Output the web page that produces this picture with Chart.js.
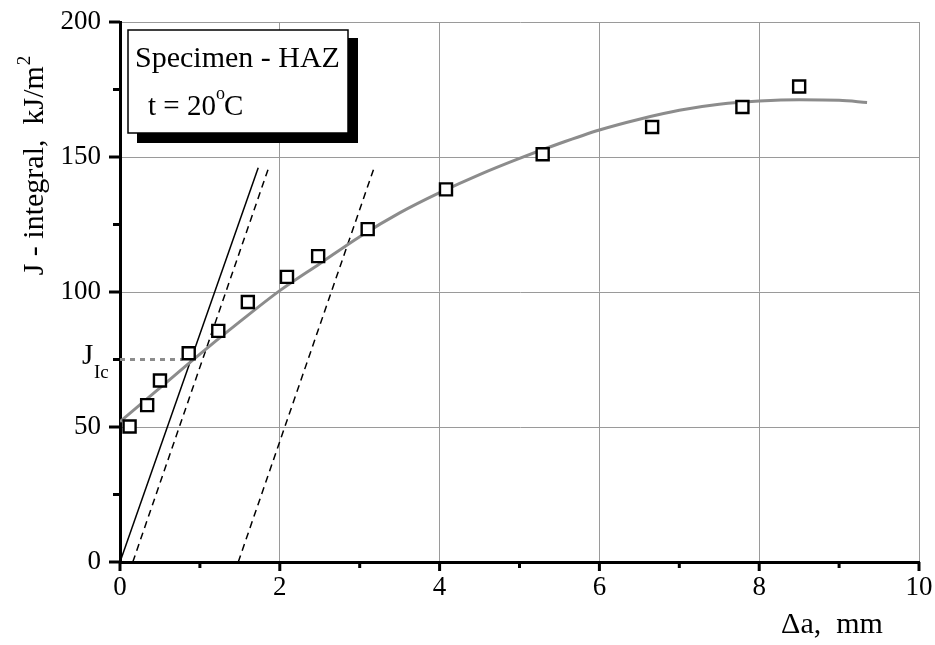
<!DOCTYPE html>
<html>
<head>
<meta charset="utf-8">
<script src="https://cdn.jsdelivr.net/npm/chart.js@4/dist/chart.umd.min.js"></script>
<style>
  html, body { margin: 0; padding: 0; background: #fff; }
  #wrap { width: 935px; height: 645px; }
</style>
</head>
<body>
<div id="wrap"><canvas id="jrChart" width="935" height="645"></canvas></div>
<script>
// measured points: crack growth (mm) and J-integral (kJ/m2)
const deltaA = [0.12, 0.34, 0.5, 0.86, 1.23, 1.6, 2.09, 2.48, 3.1, 4.08, 5.29, 6.66, 7.79, 8.5];
const jValues = [50.2, 58.1, 67.2, 77.3, 85.6, 96.3, 105.6, 113.3, 123.3, 138.0, 151.0, 161.1, 168.5, 176.1];

// fitted R-curve
const fitX = [0, 0.5, 1, 1.5, 2, 2.5, 3, 3.5, 4, 4.5, 5, 5.5, 6, 6.5, 7, 7.5, 8, 8.5, 9, 9.35];
const fitY = [52, 64.5, 77, 89, 100.5, 110.5, 120.5, 129.3, 136.8, 143.5, 149.5, 155, 160, 164, 167.3, 169.5, 170.7, 171.2, 171, 170.2];

// blunting line and its offsets
const bluntX = [0, 1.73];
const bluntY = [0, 146];
const offset1X = [0.16, 1.86];
const offset2X = [1.48, 3.18];
const offsetY = [0, 146];

// J_Ic level
const jicValue = 75;
const jicX = [0, 0.78];

const xTicks = [0, 2, 4, 6, 8, 10];
const yTicks = [0, 50, 100, 150, 200];

const serif = '"Liberation Serif", "DejaVu Serif", serif';

function pairs(xs, ys) {
    return xs.map((x, i) => ({ x: x, y: ys[i] }));
}

// tick marks, titles, J_Ic label and the framed note
const decorPlugin = {
    id: 'decor',
    afterDraw(chart) {
        const ctx = chart.ctx;
        const xs = chart.scales.x;
        const ys = chart.scales.y;
        const area = chart.chartArea;
        ctx.save();
        ctx.strokeStyle = '#000';
        ctx.lineWidth = 3;
        ctx.lineCap = 'butt';
        // y ticks
        for (let v = 0; v <= 200; v += 25) {
            const py = ys.getPixelForValue(v);
            const len = yTicks.includes(v) ? 11 : 7;
            ctx.beginPath();
            ctx.moveTo(area.left, py);
            ctx.lineTo(area.left - len, py);
            ctx.stroke();
        }
        // x ticks
        for (let v = 0; v <= 10; v += 1) {
            const px = xs.getPixelForValue(v);
            const len = xTicks.includes(v) ? 9 : 6;
            ctx.beginPath();
            ctx.moveTo(px, area.bottom);
            ctx.lineTo(px, area.bottom + len);
            ctx.stroke();
        }

        ctx.fillStyle = '#000';
        // J_Ic label
        const jy = ys.getPixelForValue(jicValue);
        ctx.textAlign = 'left';
        ctx.textBaseline = 'alphabetic';
        ctx.font = '29px ' + serif;
        ctx.fillText('J', 82, jy + 4);
        ctx.font = '19px ' + serif;
        ctx.fillText('Ic', 94, jy + 18);

        // x axis title
        ctx.font = '30px ' + serif;
        ctx.textAlign = 'center';
        ctx.fillText('\u0394a,  mm', 832, 633);

        // y axis title
        ctx.save();
        ctx.translate(43, 166);
        ctx.rotate(-Math.PI / 2);
        ctx.font = '30px ' + serif;
        const main = 'J - integral,  kJ/m';
        const wMain = ctx.measureText(main).width;
        ctx.font = '19px ' + serif;
        const wSup = ctx.measureText('2').width;
        const start = -(wMain + wSup) / 2;
        ctx.textAlign = 'left';
        ctx.font = '30px ' + serif;
        ctx.fillText(main, start, 0);
        ctx.font = '19px ' + serif;
        ctx.fillText('2', start + wMain + 1, -13);
        ctx.restore();

        // note box with shadow
        ctx.fillStyle = '#000';
        ctx.fillRect(137, 38, 221, 105);
        ctx.fillStyle = '#fff';
        ctx.fillRect(128, 30, 220, 103);
        ctx.lineWidth = 1.5;
        ctx.strokeStyle = '#000';
        ctx.strokeRect(128, 30, 220, 103);
        ctx.fillStyle = '#000';
        ctx.textAlign = 'left';
        ctx.font = '30px ' + serif;
        ctx.fillText('Specimen - HAZ', 135, 67);
        ctx.font = '29px ' + serif;
        ctx.fillText('t = 20', 148, 115);
        const wT = ctx.measureText('t = 20').width;
        ctx.font = '18px ' + serif;
        ctx.fillText('o', 148 + wT, 99);
        const wO = ctx.measureText('o').width;
        ctx.font = '29px ' + serif;
        ctx.fillText('C', 148 + wT + wO - 1, 115);
        ctx.restore();
    }
};

const ctx = document.getElementById('jrChart').getContext('2d');

const jrChart = new Chart(ctx, {
    type: 'scatter',
    data: {
        datasets: [
            {
                label: 'data',
                data: pairs(deltaA, jValues),
                pointStyle: 'rect',
                pointRadius: 8.5,
                pointBorderWidth: 2.4,
                pointBorderColor: '#000',
                pointBackgroundColor: '#fff',
                showLine: false,
                order: 0
            },
            {
                label: 'fit',
                data: pairs(fitX, fitY),
                showLine: true,
                borderColor: '#8c8c8c',
                borderWidth: 3,
                pointRadius: 0,
                cubicInterpolationMode: 'monotone',
                order: 1
            },
            {
                label: 'blunting',
                data: pairs(bluntX, bluntY),
                showLine: true,
                borderColor: '#000',
                borderWidth: 1.5,
                pointRadius: 0,
                order: 2
            },
            {
                label: 'offset 0.15',
                data: pairs(offset1X, offsetY),
                showLine: true,
                borderColor: '#000',
                borderWidth: 1.5,
                borderDash: [7, 5],
                pointRadius: 0,
                order: 3
            },
            {
                label: 'offset 1.5',
                data: pairs(offset2X, offsetY),
                showLine: true,
                borderColor: '#000',
                borderWidth: 1.5,
                borderDash: [7, 5],
                pointRadius: 0,
                order: 4
            },
            {
                label: 'JIc',
                data: pairs(jicX, [jicValue, jicValue]),
                showLine: true,
                borderColor: '#8c8c8c',
                borderWidth: 3,
                borderDash: [5, 5],
                pointRadius: 0,
                order: 5
            }
        ]
    },
    options: {
        responsive: false,
        animation: false,
        layout: { padding: { left: 0, top: 22, right: 16, bottom: 0 } },
        plugins: {
            legend: { display: false },
            tooltip: { enabled: false }
        },
        scales: {
            x: {
                type: 'linear',
                min: 0,
                max: 10,
                afterFit: (scale) => {
                    scale.height = 83;
                    scale.paddingLeft = 0;
                    scale.paddingRight = 0;
                },
                ticks: {
                    stepSize: 1,
                    autoSkip: false,
                    maxRotation: 0,
                    padding: 10,
                    color: '#000',
                    font: { family: serif, size: 27 },
                    callback: (v) => xTicks.includes(v) ? v : ''
                },
                grid: {
                    drawTicks: false,
                    lineWidth: 1,
                    color: (c) => (c.tick && c.tick.value !== 0 && xTicks.includes(c.tick.value)) ? '#9a9a9a' : 'rgba(0,0,0,0)'
                },
                border: { display: true, color: '#000', width: 3 }
            },
            y: {
                type: 'linear',
                min: 0,
                max: 200,
                afterFit: (scale) => {
                    scale.width = 120;
                    scale.paddingTop = 0;
                    scale.paddingBottom = 0;
                },
                ticks: {
                    stepSize: 25,
                    autoSkip: false,
                    padding: 19,
                    color: '#000',
                    font: { family: serif, size: 27 },
                    callback: (v) => yTicks.includes(v) ? v : ''
                },
                grid: {
                    drawTicks: false,
                    lineWidth: 1,
                    color: (c) => (c.tick && c.tick.value !== 0 && yTicks.includes(c.tick.value)) ? '#9a9a9a' : 'rgba(0,0,0,0)'
                },
                border: { display: true, color: '#000', width: 3 }
            }
        }
    },
    plugins: [decorPlugin]
});
</script>
</body>
</html>
